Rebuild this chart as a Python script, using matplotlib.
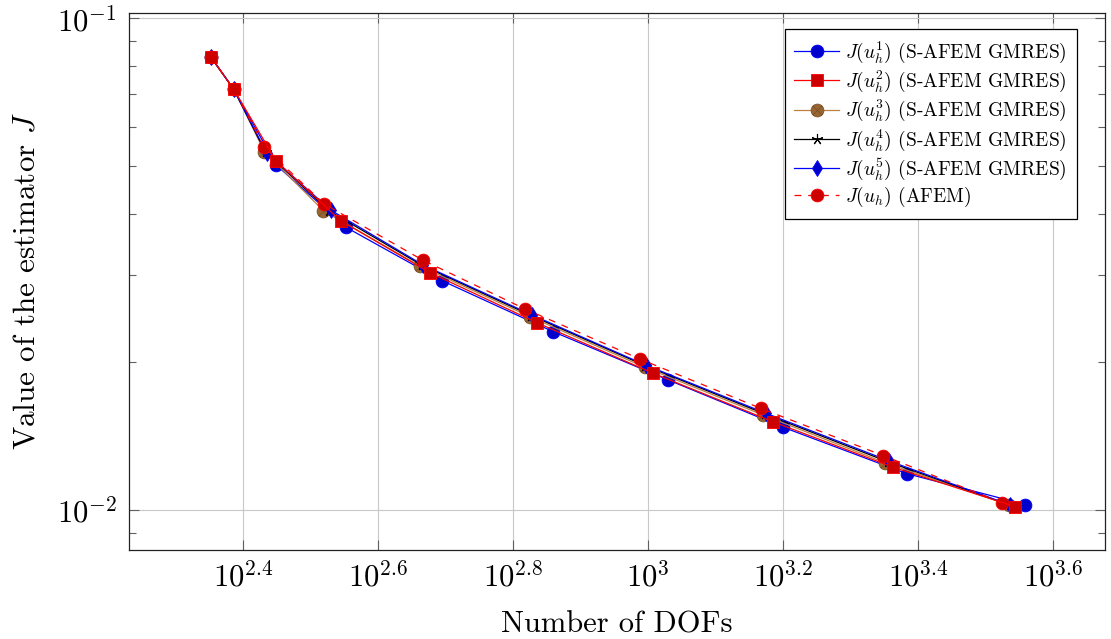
import matplotlib
matplotlib.use('Agg')
import matplotlib.pyplot as plt
from matplotlib.path import Path
from matplotlib.ticker import FixedLocator, NullLocator, LogLocator, NullFormatter
import numpy as np

plt.rcParams['font.family'] = 'serif'
plt.rcParams['font.serif'] = ['cmr10']
plt.rcParams['mathtext.fontset'] = 'cm'
plt.rcParams['axes.unicode_minus'] = False
plt.rcParams['axes.formatter.use_mathtext'] = True

# number of DOFs and estimator values per refinement step
dofs_1 = [225, 243, 281, 357, 495, 723, 1071, 1585, 2414, 3615]
J_1 = [0.0833, 0.0718, 0.0503, 0.03755, 0.02926, 0.02305, 0.01838, 0.01473, 0.01186, 0.01026]

dofs_2 = [225, 243, 281, 350, 475, 684, 1017, 1529, 2307, 3494]
J_2 = [0.0833, 0.0718, 0.05126, 0.03877, 0.03038, 0.02404, 0.01897, 0.01512, 0.01221, 0.01016]

dofs_3 = [225, 243, 270, 330, 459, 668, 989, 1480, 2242, 3423]
J_3 = [0.0833, 0.0718, 0.05353, 0.04063, 0.03134, 0.02472, 0.01950, 0.01560, 0.01248, 0.01024]

dofs_4 = [225, 243, 271, 336, 462, 671, 990, 1488, 2262, 3430]
J_4 = [0.0833, 0.0718, 0.05340, 0.04065, 0.03145, 0.02485, 0.01965, 0.01568, 0.01254, 0.01024]

dofs_5 = [225, 243, 272, 339, 464, 673, 991, 1494, 2275, 3435]
J_5 = [0.0833, 0.0718, 0.05321, 0.04067, 0.03149, 0.02492, 0.01971, 0.01573, 0.01258, 0.01024]

dofs_afem = [225, 243, 270, 331, 463, 657, 972, 1467, 2229, 3339]
J_afem = [0.0833, 0.0718, 0.05464, 0.04193, 0.03224, 0.02563, 0.02028, 0.01610, 0.01290, 0.01035]

labels = [r'$J(u_h^1)$ (S-AFEM GMRES)', r'$J(u_h^2)$ (S-AFEM GMRES)',
          r'$J(u_h^3)$ (S-AFEM GMRES)', r'$J(u_h^4)$ (S-AFEM GMRES)',
          r'$J(u_h^5)$ (S-AFEM GMRES)', r'$J(u_h)$ (AFEM)']

xtick_exp = [2.4, 2.6, 2.8, 3.0, 3.2, 3.4, 3.6]
xtick_labels = [r'$10^{2.4}$', r'$10^{2.6}$', r'$10^{2.8}$', r'$10^{3}$',
                r'$10^{3.2}$', r'$10^{3.4}$', r'$10^{3.6}$']

# circle with a cross (pgfplots otimes*)
d = np.sqrt(0.5)
cross = Path([(-d, -d), (d, d), (-d, d), (d, -d)],
             [Path.MOVETO, Path.LINETO, Path.MOVETO, Path.LINETO])
otimes = Path.make_compound_path(Path.unit_circle(), cross)

fig = plt.figure(figsize=(11.11, 6.39), dpi=100)
ax = fig.add_axes([0.1164, 0.1393, 0.8782, 0.8408])

lw = 0.9
ax.plot(dofs_1, J_1, color='#0000ff', lw=lw, marker='o', ms=9.2,
        mfc='#0000cc', mec='#0000ff', mew=0.6, label=labels[0], zorder=3)
ax.plot(dofs_2, J_2, color='#ff0000', lw=lw, marker='s', ms=8.8,
        mfc='#cc0000', mec='#ff0000', mew=0.6, label=labels[1], zorder=9)
ax.plot(dofs_3, J_3, color='#bf8040', lw=lw, marker=otimes, ms=9.2,
        mfc='#996633', mec='#7a5226', mew=0.6, label=labels[2], zorder=4)
ax.plot(dofs_4, J_4, color='black', lw=lw, marker=(5, 2, 0), ms=8,
        mec='black', mew=0.8, label=labels[3], zorder=5)
ax.plot(dofs_5, J_5, color='#0000ff', lw=lw, marker='d', ms=8,
        mfc='#0000cc', mec='#0000ff', mew=0.6, label=labels[4], zorder=6)
ax.plot(dofs_afem, J_afem, color='#ff0000', lw=lw, ls=(0, (5.5, 5.5)), marker='o', ms=9.2,
        mfc='#cc0000', mec='#ff0000', mew=0.6, label=labels[5], zorder=7)

ax.set_xscale('log')
ax.set_yscale('log')
ax.set_xlim(10 ** 2.2311, 10 ** 3.6766)
ax.set_ylim(10 ** -2.0813, 10 ** -0.9886)

ax.xaxis.set_major_locator(FixedLocator(10 ** np.array(xtick_exp)))
ax.xaxis.set_minor_locator(NullLocator())
ax.set_xticklabels(xtick_labels)
ax.yaxis.set_major_locator(FixedLocator([0.01, 0.1]))
ax.yaxis.set_minor_locator(LogLocator(base=10, subs=np.arange(2, 10)))
ax.yaxis.set_minor_formatter(NullFormatter())
ax.set_yticklabels([r'$10^{-2}$', r'$10^{-1}$'])

ax.tick_params(which='both', direction='in', top=True, right=True,
               color='#606060', width=0.8, labelsize=22)
ax.tick_params(which='major', length=7.5)
ax.tick_params(which='minor', length=4.7)
ax.tick_params(axis='x', pad=8)
ax.tick_params(axis='y', pad=9)

ax.grid(True, which='major', color='#c8c8c8', lw=0.8)
ax.set_axisbelow(True)
for s in ax.spines.values():
    s.set_linewidth(0.9)
    s.set_color('#222222')

ax.set_xlabel('Number of DOFs', fontsize=22, labelpad=14)
ax.set_ylabel(r'Value of the estimator $J$', fontsize=22.4, labelpad=11.5)

leg = ax.legend(loc='upper right', bbox_to_anchor=(0.971, 0.969), fontsize=14,
                numpoints=1, fancybox=False, framealpha=1, edgecolor='black',
                handlelength=2.3, handletextpad=0.32, labelspacing=0.17,
                borderpad=0.5, borderaxespad=0)
leg.get_frame().set_linewidth(0.9)

fig.savefig('out.png', dpi=100)
